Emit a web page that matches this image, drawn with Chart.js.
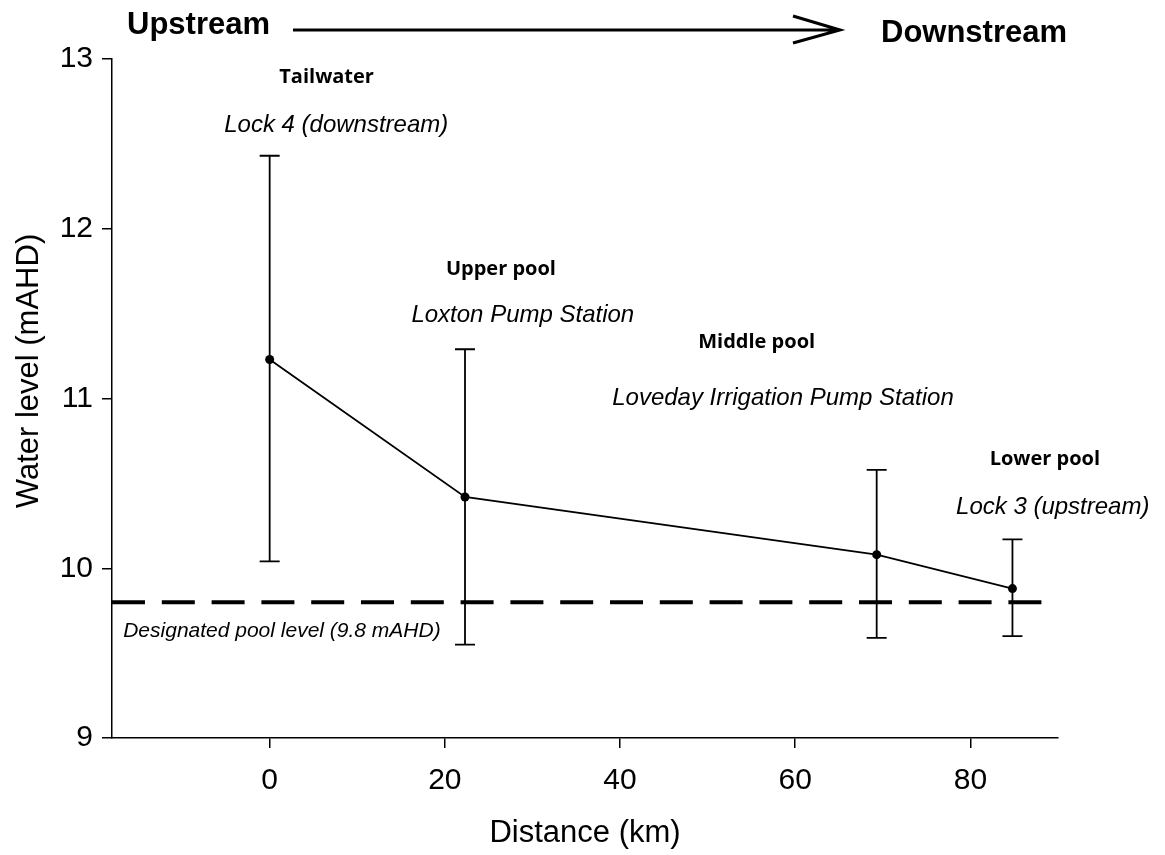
<!DOCTYPE html>
<html>
<head>
<meta charset="utf-8">
<script src="https://cdn.jsdelivr.net/npm/chart.js@4.4.1/dist/chart.umd.min.js"></script>
<style>
  html, body { margin: 0; padding: 0; background: #fff; }
  canvas { display: block; }
</style>
</head>
<body>
<canvas id="chart" width="1165" height="855"></canvas>
<script>
// distance from Lock 4 (km) and water level at each site (mAHD)
var DISTANCE = [0, 22.3, 69.3, 84.8];
var LEVEL_MEAN = [11.23, 10.42, 10.08, 9.88];
var LEVEL_MAX = [12.43, 11.29, 10.58, 10.17];
var LEVEL_MIN = [10.04, 9.55, 9.59, 9.60];
var POOL_LEVEL = 9.8;
var X_RANGE = [-18, 90];
var Y_RANGE = [9, 13];
var X_TICKS = [0, 20, 40, 60, 80];
var Y_TICKS = [9, 10, 11, 12, 13];

var SITE_NAMES = ['Tailwater', 'Upper pool', 'Middle pool', 'Lower pool'];
var SITE_PLACES = ['Lock 4 (downstream)', 'Loxton Pump Station', 'Loveday Irrigation Pump Station', 'Lock 3 (upstream)'];
// label anchors, in axis units
var NAME_POS = [[6.5, 12.89], [26.4, 11.76], [55.6, 11.33], [88.5, 10.64]];
var PLACE_POS = [[7.6, 12.61], [28.9, 11.49], [58.6, 11.0], [89.4, 10.36]];
var POOL_LABEL = 'Designated pool level (9.8 mAHD)';
var POOL_LABEL_POS = [1.4, 9.63];

var SANS = '"Liberation Sans", Arial, sans-serif';
var LABEL_BOLD = '"Open Sans", sans-serif';

var meanPoints = DISTANCE.map(function (d, i) { return { x: d, y: LEVEL_MEAN[i] }; });
var poolPoints = X_RANGE.map(function (d) { return { x: d, y: POOL_LEVEL }; });

/** Vertical min/max whiskers with caps, drawn from the data arrays. */
var errorBarPlugin = {
  id: 'errorBars',
  afterDatasetsDraw: function (chart) {
    var ctx = chart.ctx;
    var xs = chart.scales.x, ys = chart.scales.y;
    ctx.save();
    ctx.strokeStyle = '#000';
    ctx.lineWidth = 1.8;
    DISTANCE.forEach(function (d, i) {
      var px = xs.getPixelForValue(d);
      var top = ys.getPixelForValue(LEVEL_MAX[i]);
      var bot = ys.getPixelForValue(LEVEL_MIN[i]);
      ctx.beginPath();
      ctx.moveTo(px, top); ctx.lineTo(px, bot);
      ctx.moveTo(px - 10, top); ctx.lineTo(px + 10, top);
      ctx.moveTo(px - 10, bot); ctx.lineTo(px + 10, bot);
      ctx.stroke();
    });
    ctx.restore();
  }
};

/** Site labels, pool label, y title and the upstream/downstream arrow. */
var textPlugin = {
  id: 'texts',
  afterDraw: function (chart) {
    var ctx = chart.ctx;
    var xs = chart.scales.x, ys = chart.scales.y;
    ctx.save();
    ctx.fillStyle = '#000';
    ctx.textAlign = 'center';
    ctx.textBaseline = 'middle';

    ctx.font = 'bold 20px ' + LABEL_BOLD;
    SITE_NAMES.forEach(function (t, i) {
      ctx.fillText(t, xs.getPixelForValue(NAME_POS[i][0]), ys.getPixelForValue(NAME_POS[i][1]));
    });
    ctx.font = 'italic 24px ' + SANS;
    SITE_PLACES.forEach(function (t, i) {
      ctx.fillText(t, xs.getPixelForValue(PLACE_POS[i][0]), ys.getPixelForValue(PLACE_POS[i][1]));
    });
    ctx.font = 'italic 21px ' + SANS;
    ctx.fillText(POOL_LABEL, xs.getPixelForValue(POOL_LABEL_POS[0]), ys.getPixelForValue(POOL_LABEL_POS[1]));

    // y axis title, sits a bit above the axis middle
    ctx.save();
    ctx.translate(29, 371);
    ctx.rotate(-Math.PI / 2);
    ctx.font = '31px ' + SANS;
    ctx.fillText('Water level (mAHD)', 0, 0);
    ctx.restore();

    // flow direction
    ctx.textAlign = 'left';
    ctx.font = 'bold 31px ' + SANS;
    ctx.fillText('Upstream', 127, 25);
    ctx.fillText('Downstream', 881, 33);
    ctx.strokeStyle = '#000';
    ctx.lineWidth = 3;
    ctx.beginPath();
    ctx.moveTo(293, 30); ctx.lineTo(838, 30);
    ctx.moveTo(793, 16); ctx.lineTo(840, 30); ctx.lineTo(793, 43);
    ctx.stroke();
    ctx.restore();
  }
};

new Chart(document.getElementById('chart').getContext('2d'), {
  type: 'line',
  data: {
    datasets: [{
      label: 'Water level',
      data: meanPoints,
      borderColor: '#000',
      borderWidth: 1.8,
      pointRadius: 4.5,
      pointBackgroundColor: '#000',
      pointBorderWidth: 0,
      tension: 0
    }, {
      label: 'Designated pool level',
      data: poolPoints,
      borderColor: '#000',
      borderWidth: 4,
      borderDash: [33, 16.8],
      pointRadius: 0
    }]
  },
  options: {
    responsive: false,
    animation: false,
    layout: { padding: { left: 0, top: 59, right: 107, bottom: 0 } },
    plugins: {
      legend: { display: false },
      tooltip: { enabled: false }
    },
    scales: {
      x: {
        type: 'linear',
        min: X_RANGE[0],
        max: X_RANGE[1],
        afterBuildTicks: function (s) { s.ticks = X_TICKS.map(function (v) { return { value: v }; }); },
        afterFit: function (s) { s.height = 117; },
        grid: { drawOnChartArea: false, drawTicks: true, tickLength: 10, color: '#000', lineWidth: 1.5 },
        border: { display: true, color: '#000', width: 1.5 },
        ticks: { color: '#000', padding: 15, font: { family: SANS, size: 30 } },
        title: {
          display: true,
          text: 'Distance (km)',
          color: '#000',
          padding: { top: 0, bottom: 3 },
          font: { family: SANS, size: 31 }
        }
      },
      y: {
        min: Y_RANGE[0],
        max: Y_RANGE[1],
        afterBuildTicks: function (s) { s.ticks = Y_TICKS.map(function (v) { return { value: v }; }); },
        afterFit: function (s) { s.width = 112; },
        grid: { drawOnChartArea: false, drawTicks: true, tickLength: 10, color: '#000', lineWidth: 1.5 },
        border: { display: true, color: '#000', width: 1.5 },
        ticks: { color: '#000', padding: 9, font: { family: SANS, size: 30 } }
      }
    }
  },
  plugins: [errorBarPlugin, textPlugin]
});
</script>
</body>
</html>
